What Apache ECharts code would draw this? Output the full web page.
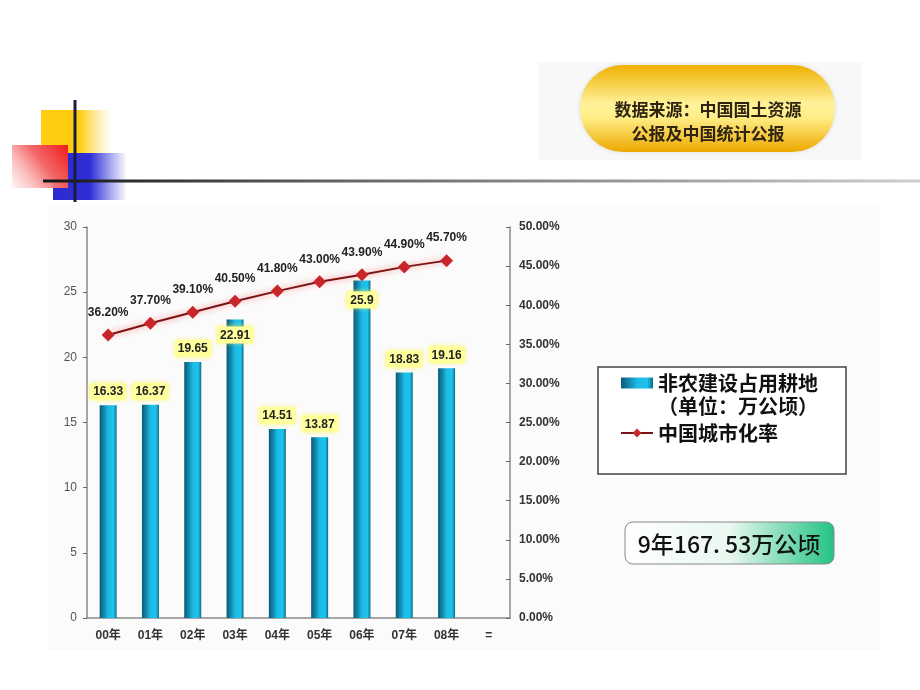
<!DOCTYPE html>
<html>
<head>
<meta charset="utf-8">
<script src="https://cdn.jsdelivr.net/npm/echarts@6/dist/echarts.min.js"></script>
<style>
html,body{margin:0;padding:0;background:#fff;}
#c{width:920px;height:690px;}
</style>
</head>
<body>
<div id="c"></div>
<script>
// ---- data ----
const categories = ['00年','01年','02年','03年','04年','05年','06年','07年','08年','='];
const farmland = [16.33, 16.37, 19.65, 22.91, 14.51, 13.87, 25.9, 18.83, 19.16];
const urbanRate = [36.2, 37.7, 39.1, 40.5, 41.8, 43.0, 43.9, 44.9, 45.7];
const leftAxisRange = [0, 30, 5];
const rightAxisRange = [0, 50, 5];
const barName = '非农建设占用耕地（单位：万公顷）';
const lineName = '中国城市化率';
const sourceLines = ['数据来源：中国国土资源', '公报及中国统计公报'];
const totalText = '9年167. 53万公顷';

// labels drawn inside the bar top for some items (index -> distance)
const insideLabel = {3: 7, 6: 11};

const NUM = '"Liberation Sans", Arial, "Noto Sans CJK SC", sans-serif';
const CJK = '"Noto Sans CJK SC", "Liberation Sans", sans-serif';

const barGradient = new echarts.graphic.LinearGradient(0, 0, 1, 0, [
  {offset: 0, color: '#0c5a74'},
  {offset: 0.3, color: '#1590b6'},
  {offset: 0.5, color: '#1bbbe6'},
  {offset: 0.82, color: '#1ec3ec'},
  {offset: 1, color: '#0d6c8a'}
]);

const barData = farmland.map((v, i) => {
  const item = {value: v};
  if (insideLabel[i] !== undefined) {
    item.label = {position: 'insideTop', distance: insideLabel[i]};
  }
  return item;
});

const chart = echarts.init(document.getElementById('c'), null, {renderer: 'canvas'});

const option = {
  backgroundColor: '#ffffff',
  animation: false,
  grid: {left: 87, right: 410, top: 227, bottom: 72},
  xAxis: {
    type: 'category',
    data: categories,
    axisLine: {lineStyle: {color: '#8a8a8a', width: 1.5}},
    axisTick: {inside: true, length: 4, lineStyle: {color: '#555'}},
    axisLabel: {color: '#333', fontSize: 12, fontWeight: 'bold', fontFamily: NUM, margin: 12}
  },
  yAxis: [
    {
      type: 'value', min: leftAxisRange[0], max: leftAxisRange[1], interval: leftAxisRange[2],
      axisLine: {show: true, lineStyle: {color: '#8a8a8a', width: 1.5}},
      axisTick: {show: true, length: 4, lineStyle: {color: '#666'}},
      splitLine: {show: false},
      axisLabel: {color: '#555', fontSize: 12, fontFamily: NUM, margin: 10}
    },
    {
      type: 'value', min: rightAxisRange[0], max: rightAxisRange[1], interval: rightAxisRange[2],
      position: 'right',
      axisLine: {show: true, lineStyle: {color: '#8a8a8a', width: 1.5}},
      axisTick: {show: true, inside: true, length: 4, lineStyle: {color: '#666'}},
      splitLine: {show: false},
      axisLabel: {color: '#333', fontSize: 12, fontWeight: 'bold', fontFamily: NUM, margin: 9,
        formatter: v => v.toFixed(2) + '%'}
    }
  ],
  legend: {
    orient: 'vertical',
    left: 620, top: 350,
    itemWidth: 32, itemHeight: 11, itemGap: 7,
    padding: 0,
    data: [{name: barName, icon: 'rect'}, {name: lineName}],
    formatter: name => name === barName
      ? '{e| }\n{a|非农建设占用耕地}\n{a|（单位：万公顷）}'
      : '{a|' + name + '}',
    textStyle: {
      rich: {
        a: {fontSize: 20, fontWeight: 'bold', lineHeight: 23, fontFamily: CJK, color: '#111'},
        e: {fontSize: 20, lineHeight: 23}
      }
    }
  },
  series: [
    {
      name: barName,
      type: 'bar',
      yAxisIndex: 0,
      barWidth: 17,
      data: barData,
      itemStyle: {color: barGradient},
      label: {
        show: true, position: 'top', distance: 5,
        color: '#222', fontSize: 12, fontWeight: 'bold', fontFamily: NUM,
        backgroundColor: '#ffff9c', padding: [3, 3, 2, 3],
        shadowColor: 'rgba(255,240,80,0.9)', shadowBlur: 5,
        formatter: p => String(p.value)
      },
      z: 2
    },
    {
      name: lineName,
      type: 'line',
      yAxisIndex: 1,
      data: urbanRate,
      symbol: 'diamond',
      symbolSize: 13,
      itemStyle: {color: '#c8262b'},
      lineStyle: {color: '#7a1414', width: 2, shadowColor: 'rgba(255,60,60,0.7)', shadowBlur: 6},
      label: {
        show: true, position: 'top', distance: 10,
        color: '#222', fontSize: 12, fontWeight: 'bold', fontFamily: NUM,
        formatter: p => p.value.toFixed(2) + '%'
      },
      z: 5
    }
  ],
  graphic: [
    // faint chart panel background
    {type: 'rect', z: -10, shape: {x: 48, y: 205, width: 832, height: 445}, style: {fill: '#fbfbfb'}},
    // top-left decoration
    {type: 'rect', z: 1, shape: {x: 41, y: 110, width: 70, height: 43},
      style: {fill: new echarts.graphic.LinearGradient(0, 0, 1, 0, [
        {offset: 0, color: '#ffcc10'}, {offset: 0.55, color: '#ffcc10'}, {offset: 1, color: 'rgba(255,220,90,0)'}])}},
    {type: 'rect', z: 1, shape: {x: 53, y: 153, width: 74, height: 47},
      style: {fill: new echarts.graphic.LinearGradient(0, 0, 1, 0, [
        {offset: 0, color: '#2b2bd0'}, {offset: 0.5, color: '#2e2ed4'}, {offset: 1, color: 'rgba(60,60,230,0)'}])}},
    {type: 'rect', z: 2, shape: {x: 12, y: 145, width: 56, height: 43},
      style: {fill: new echarts.graphic.LinearGradient(1, 0, 0, 1, [
        {offset: 0, color: '#ee1c1c'}, {offset: 0.45, color: '#f46a6a'}, {offset: 1, color: 'rgba(255,230,230,0.5)'}])}},
    {type: 'line', z: 3, shape: {x1: 75, y1: 100, x2: 75, y2: 202}, style: {stroke: '#1c1c40', lineWidth: 3}},
    {type: 'line', z: 3, shape: {x1: 43, y1: 181, x2: 920, y2: 181},
      style: {lineWidth: 3, stroke: new echarts.graphic.LinearGradient(0, 0, 1, 0, [
        {offset: 0, color: '#151515'}, {offset: 0.35, color: '#666'}, {offset: 1, color: '#cfcfcf'}])}},
    // top-right source box
    {type: 'rect', z: -5, shape: {x: 538, y: 62, width: 324, height: 98}, style: {fill: '#f8f8f8'}},
    {type: 'rect', z: 1, shape: {x: 580, y: 65, width: 255, height: 87, r: 43},
      style: {fill: new echarts.graphic.LinearGradient(0, 0, 0, 1, [
        {offset: 0, color: '#f0b000'}, {offset: 0.45, color: '#fff29a'}, {offset: 0.6, color: '#ffee88'}, {offset: 1, color: '#eea800'}]),
        shadowColor: 'rgba(0,0,0,0.12)', shadowBlur: 4}},
    {type: 'text', z: 2, x: 708, y: 110, style: {text: sourceLines[0], align: 'center', verticalAlign: 'middle',
      font: 'bold 17px "Noto Sans CJK SC"', fill: '#2e2410'}},
    {type: 'text', z: 2, x: 708, y: 134, style: {text: sourceLines[1], align: 'center', verticalAlign: 'middle',
      font: 'bold 17px "Noto Sans CJK SC"', fill: '#2e2410'}},
    // legend frame
    {type: 'rect', z: 0, shape: {x: 598, y: 367, width: 248, height: 107},
      style: {fill: '#ffffff', stroke: '#444', lineWidth: 1.5}},
    // total box
    {type: 'rect', z: 1, shape: {x: 625, y: 522, width: 209, height: 42, r: 8},
      style: {stroke: '#888', lineWidth: 1,
        fill: new echarts.graphic.LinearGradient(0, 0, 1, 0, [
          {offset: 0, color: '#ffffff'}, {offset: 0.5, color: '#e9f8f0'}, {offset: 1, color: '#22c283'}])}},
    {type: 'text', z: 2, x: 729, y: 544, style: {text: totalText, align: 'center', verticalAlign: 'middle',
      font: '500 23px "Noto Sans CJK SC"', fill: '#111'}}
  ]
};
chart.setOption(option);
</script>
</body>
</html>
